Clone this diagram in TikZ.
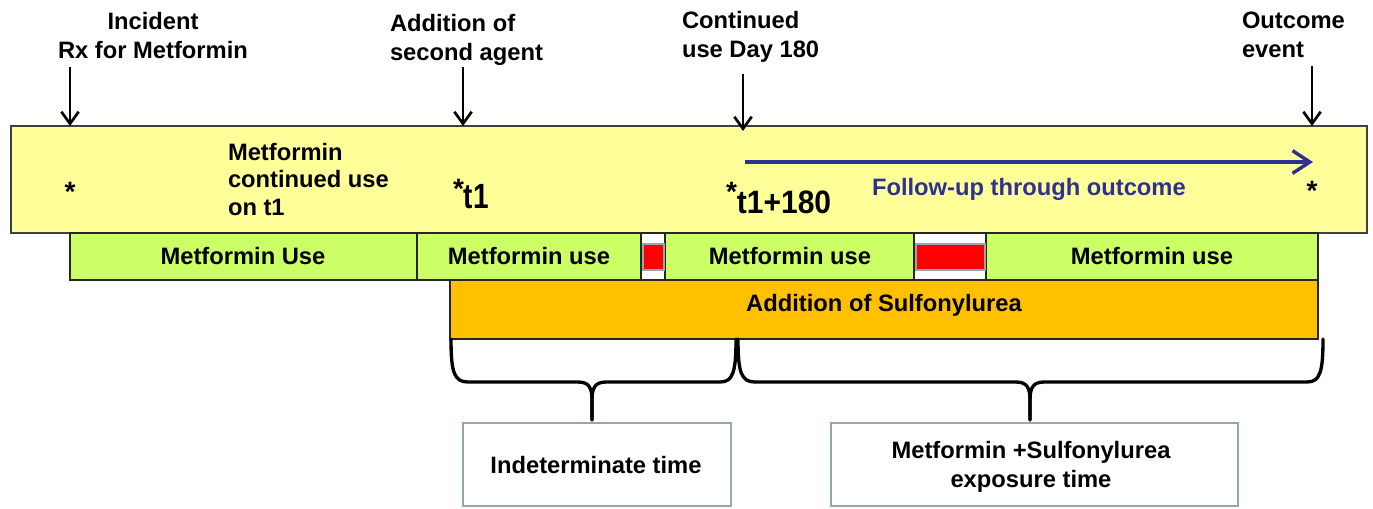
\documentclass[tikz,border=0pt]{standalone}
\usepackage{fontspec}
\setmainfont{Liberation Sans}
\usetikzlibrary{arrows.meta,fit}
\definecolor{ylw}{HTML}{FFFF99}
\definecolor{grn}{HTML}{CCFF66}
\definecolor{org}{HTML}{FFC000}
\definecolor{gbl}{HTML}{93A9AF}
\definecolor{nav}{HTML}{2E3192}
\begin{document}
\begin{tikzpicture}[x=0.75pt,y=-0.75pt,
  font=\fontsize{17.8}{21.75}\selectfont\bfseries,
  bar/.style={fit={#1}, inner sep=0pt, outer sep=0pt, draw=black!85, line width=0.9pt},
  txt/.style={inner sep=0pt, outer sep=0pt, anchor=base},
  ptr/.style={draw=black, line width=1.9pt, -{Straight Barb[length=9pt,width=13pt,line width=2pt]}},
  brc/.style={draw=black, line width=2.5pt, line join=round, line cap=round},
  note/.style={fit={#1}, inner sep=0pt, outer sep=0pt, draw=gbl, line width=2pt, fill=white},
  gapbox/.style={fit={#1}, inner sep=0pt, outer sep=0pt, draw=gbl, line width=1.5pt, fill=red}]
\useasboundingbox (0,0) rectangle (1373,508);

% yellow band
\node[bar={(11,126)(1367,233)}, fill=ylw, draw=black!75, line width=1.1pt] (yb) {};

% green row
\node[bar={(70,233)(417,280)}, fill=grn] (g1) {};
\node[bar={(417,233)(641,280)}, fill=grn] (g2) {};
\node[bar={(641,233)(665,280)}, fill=white] (w1) {};
\node[bar={(665,233)(914,280)}, fill=grn] (g3) {};
\node[bar={(914,233)(986,280)}, fill=white] (w2) {};
\node[bar={(986,233)(1318,280)}, fill=grn] (g4) {};
\node[gapbox={(643,244)(664,270)}] (r1) {};
\node[gapbox={(916,244)(985,270)}] (r2) {};

% orange bar
\node[bar={(450,280)(1318,339)}, fill=org] (ob) {};

% texts in bars
\node[txt] (tg1) at (243,264) {Metformin Use};
\node[txt] (tg2) at (529,264) {Metformin use};
\node[txt] (tg3) at (790,264) {Metformin use};
\node[txt] (tg4) at (1152,264) {Metformin use};
\node[txt] (tob) at (884,311) {Addition of Sulfonylurea};

% top labels (base = last line's baseline)
\node[txt, align=center] (l1) at (153,58) {Incident\\Rx for Metformin};
\node[txt, anchor=base west, align=left] (l2) at (390,60) {Addition of\\second agent};
\node[txt, anchor=base west, align=left] (l3) at (682,57) {Continued\\use Day 180};
\node[txt, anchor=base west, align=left] (l4) at (1242,57) {Outcome\\event};

\coordinate (a1) at (70,67);
\coordinate (a2) at (463,67);
\coordinate (a3) at (743,74);
\coordinate (a4) at (1312,66);
\coordinate (e3) at (743,131);
\draw[ptr] (a1) -- (a1 |- yb.north);
\draw[ptr] (a2) -- (a2 |- yb.north);
\draw[ptr] (a3) -- (e3);
\draw[ptr] (a4) -- (a4 |- yb.north);

% yellow band texts
\node[txt, anchor=base west, align=left, font=\fontsize{17.8}{20.6}\selectfont\bfseries] (ym) at (228,215) {Metformin\\continued use\\on t1};
\node[txt, font=\fontsize{21}{24}\selectfont\bfseries] (s1) at (70,201) {*};
\node[txt, font=\fontsize{21}{24}\selectfont\bfseries] (s4) at (1312,200) {*};
\node[txt, anchor=base west] (s2) at (453,208) {\raisebox{7.5pt}{\fontsize{21}{24}\selectfont *}{\fontsize{21}{24}\selectfont\scalebox{1}[1.25]{t1}}};
\node[txt, anchor=base west] (s3) at (726,213) {\raisebox{8.5pt}{\fontsize{21}{24}\selectfont *}{\fontsize{22.5}{26}\selectfont\scalebox{1}[1.08]{t1+180}}};

% follow-up arrow
\coordinate (f1) at (745,162);
\coordinate (f2) at (1313,162);
\draw[draw=nav, line width=2.6pt, -{Straight Barb[length=13pt,width=17pt,line width=2.6pt]}] (f1) -- (f2);
\node[txt, anchor=base west, text=nav] (fu) at (872,195) {Follow-up through outcome};

% bottom boxes
\node[note={(463,423)(731,506)}] (b1) {};
\node[note={(831,423)(1238,506)}] (b2) {};
\node[txt] (tb1) at (596,473) {Indeterminate time};
\node[txt, align=center] (tb2) at (1031,487) {Metformin +Sulfonylurea\\exposure time};

% braces
\coordinate (p1) at (451,339);
\coordinate (p2) at (736,339);
\coordinate (t1) at (592,420);
\coordinate (q1) at (738,339);
\coordinate (q2) at (1323,339);
\coordinate (t2) at (1030,420);
\draw[brc] (p1) .. controls (451,372) and (454,382) .. (468,382) -- (578,382)
  .. controls (589,382) and (592,388) .. (592,400) -- (t1);
\draw[brc] (t1) -- (592,400) .. controls (592,388) and (595,382) .. (606,382) -- (720,382)
  .. controls (733,382) and (736,372) .. (p2);
\draw[brc] (q1) .. controls (738,372) and (741,382) .. (755,382) -- (1016,382)
  .. controls (1027,382) and (1030,388) .. (1030,400) -- (t2);
\draw[brc] (t2) -- (1030,400) .. controls (1030,388) and (1033,382) .. (1044,382) -- (1307,382)
  .. controls (1320,382) and (1323,372) .. (q2);
\end{tikzpicture}
\end{document}
